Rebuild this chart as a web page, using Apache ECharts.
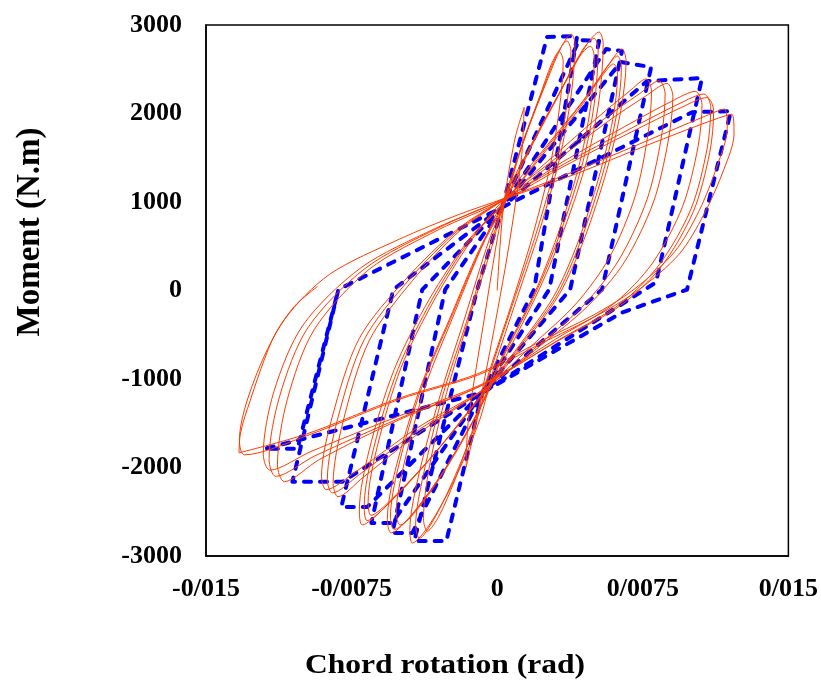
<!DOCTYPE html>
<html>
<head>
<meta charset="utf-8">
<script src="https://cdn.jsdelivr.net/npm/echarts@6/dist/echarts.min.js"></script>
<style>html,body{margin:0;padding:0;background:#fff}#chart{width:821px;height:686px}</style>
</head>
<body>
<div id="chart"></div>
<script>
// Tick labels (original uses "/" as decimal separator)
const xTickLabels = ["-0/015", "-0/0075", "0", "0/0075", "0/015"];
const yTickValues = [-3000, -2000, -1000, 0, 1000, 2000, 3000];

// Analytical model (blue dashed): [chord rotation (rad), moment (N.m)]
const modelCurve = [
  [0.00026,940],
  [0.00257,2864],[0.00412,2875],[0.00190,11],[-0.00077,-1155],[-0.00262,-2830],[-0.00427,-2830],[-0.00103,11],[0.00026,940],
  [0.00422,2830],[0.00525,2819],[0.00268,11],[-0.00077,-1155],[-0.00437,-2739],[-0.00540,-2739],[-0.00268,11],[0.00026,940],
  [0.00561,2728],[0.00643,2706],[0.00376,11],[-0.00077,-1155],[-0.00540,-2626],[-0.00648,-2626],[-0.00386,11],[0.00026,940],
  [0.00638,2581],[0.00793,2524],[0.00540,11],[-0.00077,-1155],[-0.00669,-2445],[-0.00803,-2445],[-0.00535,11],[0.00026,940],
  [0.00772,2366],[0.01055,2400],[0.00818,91],[-0.00077,-1155],[-0.00798,-2162],[-0.01055,-2162],[-0.00818,11],[0.00026,940],
  [0.01004,2015],[0.01204,2026],[0.00978,11],[0.00643,-249],[-0.00077,-1155],[-0.01199,-1789],[-0.01029,-1789],[-0.00818,11]
];

const expStart = [[0,0],[0.00030,900],[0.00090,1700],[0.00139,2070],[0.00125,1500],[0.00060,500],[-0.00030,-600],[-0.00120,-1600],[-0.00160,-2000],[-0.00150,-1500],[-0.00080,-500]];
const expL1a = [[0.00040,1030],[0.00140,1710],[0.00260,2390],[0.00330,2750],[0.00381,2898],[0.00401,2790],[0.00380,2190],[0.00320,1480],[0.00220,690],[0.00100,-100],[-0.00020,-900],[-0.00090,-1460],[-0.00220,-2140],[-0.00350,-2650],[-0.00437,-2853],[-0.00450,-2710],[-0.00410,-2140],[-0.00300,-1230],[-0.00170,-330],[-0.00040,580]];
const expL1b = [[0.00040,1000],[0.00130,1650],[0.00240,2300],[0.00310,2680],[0.00360,2820],[0.00380,2700],[0.00360,2120],[0.00300,1420],[0.00200,640],[0.00080,-150],[-0.00040,-950],[-0.00110,-1500],[-0.00230,-2160],[-0.00330,-2600],[-0.00400,-2800],[-0.00420,-2650],[-0.00380,-2080],[-0.00280,-1180],[-0.00150,-300],[-0.00030,560]];
const expL1c = [[0.00040,1000],[0.00120,1600],[0.00220,2200],[0.00280,2560],[0.00320,2700],[0.00340,2590],[0.00320,2050],[0.00270,1380],[0.00180,600],[0.00070,-180],[-0.00050,-980],[-0.00120,-1530],[-0.00220,-2150],[-0.00300,-2550],[-0.00360,-2720],[-0.00380,-2580],[-0.00350,-2000],[-0.00260,-1150],[-0.00140,-280],[-0.00020,550]];
const expL2a = [[0.00036,1030],[0.00190,1710],[0.00345,2330],[0.00463,2785],[0.00525,2921],[0.00546,2785],[0.00525,2160],[0.00463,1480],[0.00345,690],[0.00216,11],[0.00036,-780],[-0.00093,-1350],[-0.00273,-2030],[-0.00443,-2540],[-0.00546,-2739],[-0.00566,-2590],[-0.00525,-2030],[-0.00400,-1120],[-0.00247,-330],[-0.00093,460]];
const expL2b = [[0.00036,1000],[0.00180,1660],[0.00330,2270],[0.00440,2720],[0.00500,2850],[0.00520,2720],[0.00500,2110],[0.00440,1440],[0.00325,650],[0.00200,-20],[0.00020,-800],[-0.00100,-1370],[-0.00270,-2020],[-0.00430,-2510],[-0.00530,-2700],[-0.00550,-2560],[-0.00510,-2000],[-0.00390,-1100],[-0.00240,-320],[-0.00090,450]];
const expL2c = [[0.00036,980],[0.00170,1600],[0.00315,2200],[0.00420,2630],[0.00480,2760],[0.00500,2640],[0.00480,2060],[0.00420,1400],[0.00310,620],[0.00190,-40],[0.00010,-820],[-0.00100,-1380],[-0.00260,-2000],[-0.00410,-2470],[-0.00500,-2650],[-0.00520,-2510],[-0.00480,-1960],[-0.00370,-1080],[-0.00230,-310],[-0.00090,440]];
const expL3a = [[0.00036,1030],[0.00242,1600],[0.00448,2160],[0.00576,2560],[0.00643,2728],[0.00664,2592],[0.00638,2050],[0.00566,1370],[0.00448,580],[0.00319,-45],[0.00113,-670],[-0.00093,-1230],[-0.00350,-1910],[-0.00582,-2456],[-0.00695,-2649],[-0.00710,-2480],[-0.00659,-1800],[-0.00530,-890],[-0.00350,-100],[-0.00144,580]];
const expL3b = [[0.00036,1000],[0.00235,1560],[0.00430,2100],[0.00555,2490],[0.00620,2650],[0.00640,2520],[0.00615,1990],[0.00545,1330],[0.00430,560],[0.00305,-60],[0.00100,-680],[-0.00100,-1240],[-0.00340,-1890],[-0.00560,-2410],[-0.00670,-2600],[-0.00685,-2440],[-0.00635,-1770],[-0.00510,-880],[-0.00335,-100],[-0.00140,570]];
const expL3c = [[0.00036,990],[0.00225,1510],[0.00415,2030],[0.00535,2410],[0.00600,2560],[0.00620,2440],[0.00595,1930],[0.00525,1290],[0.00415,540],[0.00290,-70],[0.00090,-690],[-0.00105,-1240],[-0.00330,-1860],[-0.00545,-2360],[-0.00650,-2540],[-0.00665,-2390],[-0.00615,-1740],[-0.00495,-870],[-0.00325,-110],[-0.00135,560]];
const expL4a = [[0.00036,1030],[0.00293,1480],[0.00551,1940],[0.00731,2220],[0.00834,2370],[0.00865,2220],[0.00844,1710],[0.00772,1030],[0.00628,350],[0.00448,-160],[0.00216,-610],[-0.00067,-1120],[-0.00401,-1570],[-0.00710,-2080],[-0.00849,-2287],[-0.00875,-2140],[-0.00823,-1460],[-0.00685,-555],[-0.00453,125],[-0.00196,690]];
const expL4b = [[0.00036,1040],[0.00280,1500],[0.00520,1960],[0.00680,2250],[0.00767,2390],[0.00795,2250],[0.00775,1740],[0.00710,1060],[0.00580,380],[0.00410,-140],[0.00190,-600],[-0.00070,-1120],[-0.00390,-1590],[-0.00690,-2110],[-0.00820,-2330],[-0.00845,-2180],[-0.00795,-1490],[-0.00660,-570],[-0.00435,115],[-0.00190,680]];
const expL4c = [[0.00036,1030],[0.00300,1460],[0.00570,1910],[0.00760,2190],[0.00875,2340],[0.00905,2190],[0.00880,1680],[0.00805,1000],[0.00655,320],[0.00465,-180],[0.00225,-620],[-0.00065,-1110],[-0.00410,-1550],[-0.00730,-2050],[-0.00880,-2250],[-0.00905,-2100],[-0.00850,-1430],[-0.00710,-540],[-0.00470,130],[-0.00200,700]];
const expL5a = [[0.00036,1030],[0.00345,1430],[0.00679,1820],[0.00937,2110],[0.01065,2220],[0.01100,2070],[0.01081,1600],[0.00998,920],[0.00834,290],[0.00628,-160],[0.00319,-555],[-0.00067,-1060],[-0.00504,-1460],[-0.00916,-1910],[-0.01096,-2160],[-0.01132,-1970],[-0.01081,-1230],[-0.00942,-440],[-0.00659,240],[-0.00299,690]];
const expL5b = [[0.00036,1020],[0.00350,1410],[0.00690,1790],[0.00950,2070],[0.01080,2180],[0.01115,2030],[0.01095,1560],[0.01010,890],[0.00845,270],[0.00635,-170],[0.00320,-560],[-0.00070,-1050],[-0.00520,-1430],[-0.00960,-1820],[-0.01170,-2030],[-0.01205,-1850],[-0.01150,-1140],[-0.01000,-390],[-0.00700,260],[-0.00320,700]];
const expL5c = [[0.00036,1040],[0.00335,1450],[0.00655,1850],[0.00900,2140],[0.01020,2250],[0.01055,2100],[0.01035,1630],[0.00955,950],[0.00800,310],[0.00600,-150],[0.00300,-550],[-0.00070,-1060],[-0.00510,-1450],[-0.00940,-1870],[-0.01140,-2100],[-0.01175,-1910],[-0.01120,-1190],[-0.00975,-420],[-0.00680,250],[-0.00310,700]];
const expL6a = [[0.00036,1030],[0.00396,1310],[0.00782,1650],[0.01091,1910],[0.01209,1992],[0.01220,1770],[0.01168,1370],[0.01065,860],[0.00937,410],[0.00731,11],[0.00525,-270],[0.00216,-610],[-0.00093,-950],[-0.00504,-1230],[-0.00968,-1630],[-0.01302,-1857],[-0.01328,-1690],[-0.01251,-1010],[-0.01096,-330],[-0.00865,180],[-0.00504,580],[-0.00196,860]];
const expL6b = [[0.00036,1040],[0.00390,1340],[0.00770,1690],[0.01060,1960],[0.01170,2050],[0.01185,1830],[0.01135,1420],[0.01040,900],[0.00915,440],[0.00715,30],[0.00510,-260],[0.00200,-600],[-0.00100,-940],[-0.00510,-1220],[-0.00980,-1620],[-0.01330,-1834]];
const expEnd = [[-0.01325,-1650],[-0.01302,-1440],[-0.01158,-555],[-0.01045,-180],[-0.00926,45]];

const experimentCurve = [].concat(expStart, expL1a, expL1b, expL1c, expL2a, expL2b, expL2c,
  expL3a, expL3b, expL3c, expL4a, expL4b, expL4c, expL5a, expL5b, expL5c, expL6a, expL6b, expEnd);

const serif = "Liberation Serif";
const chart = echarts.init(document.getElementById('chart'), null, {renderer: 'canvas'});
chart.setOption({
  animation: false,
  backgroundColor: '#fff',
  grid: {left: 206, right: 30, top: 25, bottom: 130, show: true, borderColor: '#000', borderWidth: 1.5, backgroundColor: 'transparent'},
  xAxis: {
    type: 'value', min: -0.015, max: 0.015, interval: 0.0075,
    axisLine: {show: true, onZero: false, lineStyle: {color: '#000', width: 1.5}},
    axisTick: {show: false}, splitLine: {show: false},
    axisLabel: {
      margin: 20, color: '#000', fontFamily: serif, fontWeight: 'bold', fontSize: 26,
      formatter: function (v) { return xTickLabels[Math.round(v / 0.0075) + 2]; }
    }
  },
  yAxis: {
    type: 'value', min: yTickValues[0], max: yTickValues[yTickValues.length - 1], interval: 1000,
    axisLine: {show: true, onZero: false, lineStyle: {color: '#000', width: 1.5}},
    axisTick: {show: false}, splitLine: {show: false},
    axisLabel: {margin: 24, color: '#000', fontFamily: serif, fontWeight: 'bold', fontSize: 26,
      formatter: function (v) { return String(v); }}
  },
  graphic: [
    {type: 'text', x: 445, y: 666, scaleX: 1.17,
     style: {text: 'Chord rotation (rad)', fill: '#000', fontFamily: serif, fontWeight: 'bold', fontSize: 27,
             align: 'center', verticalAlign: 'middle', textAlign: 'center', textVerticalAlign: 'middle'}},
    {type: 'text', x: 30, y: 232, rotation: Math.PI / 2,
     style: {text: 'Moment (N.m)', fill: '#000', fontFamily: serif, fontWeight: 'bold', fontSize: 33,
             align: 'center', verticalAlign: 'middle', textAlign: 'center', textVerticalAlign: 'middle'}}
  ],
  series: [
    {name: 'Model', type: 'line', data: modelCurve, showSymbol: false, symbol: 'none',
     lineStyle: {color: '#0000ff', width: 4, type: [7, 9], cap: 'round', join: 'round'}, z: 2},
    {name: 'Experiment', type: 'line', data: experimentCurve, showSymbol: false, symbol: 'none', smooth: 0.3,
     lineStyle: {color: '#ff3c00', width: 1}, z: 3}
  ]
});
</script>
</body>
</html>
